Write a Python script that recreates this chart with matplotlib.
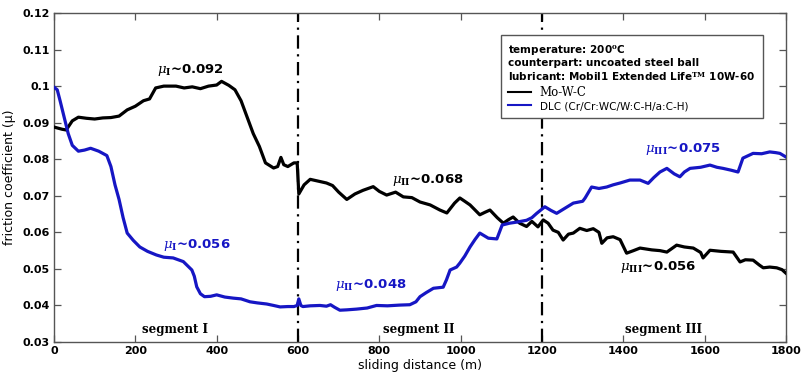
import matplotlib
matplotlib.use("Agg")
import matplotlib.pyplot as plt
from matplotlib.lines import Line2D
from matplotlib.ticker import FuncFormatter

plt.rcParams['font.family'] = ['DejaVu Sans']
plt.rcParams['mathtext.fontset'] = 'dejavuserif'

# ---- data ----
mowc_d = [0, 10, 20, 30, 45, 60, 80, 100, 120, 140, 160, 180, 200, 220, 235, 250, 270, 300,
          320, 340, 360, 380, 400, 412, 430, 445, 460, 475, 490, 505, 520, 540, 550, 558, 565,
          575, 590, 598, 602, 615, 630, 650, 670, 685, 700, 720, 740, 760, 785, 800, 818, 840,
          859, 880, 900, 925, 949, 966, 985, 998, 1010, 1023, 1047, 1060, 1072, 1090, 1105,
          1118, 1129, 1145, 1162, 1175, 1190, 1203, 1215, 1227, 1240, 1252, 1265, 1277, 1293,
          1310, 1326, 1340, 1347, 1360, 1375, 1392, 1408, 1425, 1441, 1470, 1490, 1507, 1531,
          1550, 1572, 1590, 1596, 1613, 1640, 1670, 1687, 1700, 1719, 1735, 1744, 1760, 1777,
          1790, 1800]
mowc_mu = [0.0888, 0.0885, 0.0882, 0.0880, 0.0905, 0.0915, 0.0912, 0.0910, 0.0913, 0.0914,
           0.0918, 0.0935, 0.0945, 0.0960, 0.0965, 0.0995, 0.1000, 0.1000, 0.0995, 0.0998,
           0.0993, 0.1000, 0.1003, 0.1013, 0.1002, 0.0990, 0.0960, 0.0915, 0.0870, 0.0835,
           0.0790, 0.0776, 0.0780, 0.0805, 0.0785, 0.0780, 0.0790, 0.0790, 0.0705, 0.0730,
           0.0745, 0.0740, 0.0735, 0.0728, 0.0710, 0.0690, 0.0705, 0.0715, 0.0725, 0.0712,
           0.0702, 0.0710, 0.0697, 0.0695, 0.0683, 0.0675, 0.0661, 0.0653, 0.0680, 0.0694,
           0.0685, 0.0675, 0.0648, 0.0655, 0.0661, 0.0640, 0.0625, 0.0635, 0.0642, 0.0625,
           0.0616, 0.0630, 0.0615, 0.0634, 0.0625, 0.0606, 0.0600, 0.0579, 0.0595, 0.0598,
           0.0611, 0.0605, 0.0610, 0.0600, 0.0570, 0.0585, 0.0588, 0.0580, 0.0543, 0.0550,
           0.0557, 0.0552, 0.0550, 0.0546, 0.0565, 0.0560, 0.0557, 0.0545, 0.0530, 0.0551,
           0.0548, 0.0546, 0.0519, 0.0525, 0.0524, 0.0510, 0.0503, 0.0505, 0.0503, 0.0498,
           0.0488]

dlc_d = [0, 8, 15, 25, 35, 45, 60, 75, 90, 110, 130, 140, 150, 160, 170, 180, 195, 211, 230,
         252, 270, 293, 318, 339, 345, 351, 360, 370, 385, 400, 420, 441, 460, 482, 500, 523,
         540, 556, 575, 590, 598, 602, 607, 612, 630, 654, 670, 680, 690, 703, 720, 744, 770,
         793, 820, 850, 875, 890, 900, 915, 933, 957, 965, 974, 990, 998, 1010, 1023, 1035,
         1047, 1068, 1089, 1102, 1120, 1138, 1162, 1175, 1187, 1207, 1222, 1236, 1255, 1277,
         1300, 1306, 1322, 1340, 1359, 1375, 1392, 1416, 1441, 1461, 1475, 1490, 1507, 1525,
         1539, 1550, 1564, 1590, 1613, 1630, 1645, 1665, 1682, 1694, 1719, 1740, 1760, 1775,
         1785, 1800]
dlc_mu = [0.0997, 0.0990, 0.0960, 0.0915, 0.0870, 0.0838, 0.0822, 0.0825, 0.0830, 0.0822,
          0.0810, 0.0780, 0.0730, 0.0690, 0.0640, 0.0598, 0.0578, 0.0560, 0.0548, 0.0538,
          0.0532, 0.0530, 0.0520, 0.0497, 0.0480, 0.0451, 0.0432, 0.0424, 0.0425, 0.0429,
          0.0423, 0.0420, 0.0418, 0.0410, 0.0407, 0.0404, 0.0400, 0.0396, 0.0397, 0.0397,
          0.0400, 0.0418, 0.0400, 0.0397, 0.0399, 0.0400, 0.0398, 0.0402, 0.0395, 0.0387,
          0.0388, 0.0390, 0.0393, 0.0400, 0.0399, 0.0401, 0.0402, 0.0410, 0.0424, 0.0435,
          0.0447, 0.0450, 0.0470, 0.0497, 0.0505, 0.0516, 0.0535, 0.0560, 0.0580, 0.0598,
          0.0584, 0.0582, 0.0620, 0.0625, 0.0628, 0.0633, 0.0640, 0.0652, 0.0670, 0.0660,
          0.0652, 0.0665, 0.0680, 0.0685, 0.0694, 0.0724, 0.0720, 0.0724, 0.0730, 0.0735,
          0.0743, 0.0743, 0.0734, 0.0750, 0.0765, 0.0775, 0.0760, 0.0752, 0.0765, 0.0775,
          0.0778, 0.0784, 0.0778, 0.0775, 0.0770, 0.0765, 0.0803, 0.0816, 0.0815, 0.0820,
          0.0818, 0.0816, 0.0806]

segment_bounds = [600, 1200]
segment_labels = ['segment I', 'segment II', 'segment III']
segment_label_x = [216, 809, 1404]

x_ticks = [0, 200, 400, 600, 800, 1000, 1200, 1400, 1600, 1800]
y_ticks = [0.03, 0.04, 0.05, 0.06, 0.07, 0.08, 0.09, 0.10, 0.11, 0.12]

series_labels = ['Mo-W-C', 'DLC (Cr/Cr:WC/W:C-H/a:C-H)']
header_lines = ['temperature: 200$^{\\mathbf{o}}$C',
                'counterpart: uncoated steel ball',
                'lubricant: Mobil1 Extended Life$^{\\mathbf{TM}}$ 10W-60']

# annotations: (text, x, y, colour)
black_c = '#000000'
blue_c = '#1616c4'
annotations = [
    ('$\\mu_{\\mathbf{I}}$~0.092', 253, 0.1044, black_c),
    ('$\\mu_{\\mathbf{I}}$~0.056', 268, 0.0565, blue_c),
    ('$\\mu_{\\mathbf{II}}$~0.048', 691, 0.0456, blue_c),
    ('$\\mu_{\\mathbf{II}}$~0.068', 831, 0.0743, black_c),
    ('$\\mu_{\\mathbf{III}}$~0.075', 1453, 0.0828, blue_c),
    ('$\\mu_{\\mathbf{III}}$~0.056', 1392, 0.0505, black_c),
]

fig = plt.figure(figsize=(8.01, 3.78), dpi=100)
ax = fig.add_axes([0.0674, 0.0952, 0.9139, 0.8704])

ax.plot(mowc_d, mowc_mu, color=black_c, lw=2.3, label=series_labels[0], zorder=3)
ax.plot(dlc_d, dlc_mu, color=blue_c, lw=2.3, label=series_labels[1], zorder=3)

for b in segment_bounds:
    ax.axvline(b, color='black', lw=1.6, linestyle=(0, (6, 2.5, 1, 2.5)), zorder=2)

ax.set_xlim(0, 1800)
ax.set_ylim(0.03, 0.12)
ax.set_xticks(x_ticks)
ax.set_yticks(y_ticks)
ax.yaxis.set_major_formatter(FuncFormatter(lambda v, p: f'{v:g}'))
ax.tick_params(direction='in', top=True, right=True, length=5, width=0.9,
               color='#555555', labelsize=8, pad=3)
for lab in ax.get_xticklabels() + ax.get_yticklabels():
    lab.set_fontweight('bold')
for s in ax.spines.values():
    s.set_color('#555555')
    s.set_linewidth(1.0)

ax.set_xlabel('sliding distance (m)', fontsize=9, labelpad=2)
ax.set_ylabel('friction coefficient (\u03bc)', fontsize=9, labelpad=5)

for txt, x, y, c in annotations:
    ax.text(x, y, txt, color=c, fontsize=9.5, fontweight='bold', ha='left', va='center')

for lab, x in zip(segment_labels, segment_label_x):
    ax.text(x, 0.0335, lab, fontsize=8.5, fontweight='bold', family='DejaVu Serif',
            ha='left', va='center')

handles = [Line2D([], [], color=black_c, lw=1.5), Line2D([], [], color=blue_c, lw=1.5)]
leg = ax.legend(handles, series_labels, title='\n'.join(header_lines),
                loc='upper right', bbox_to_anchor=(0.9754, 0.948),
                fancybox=False, edgecolor='#555555', framealpha=1,
                fontsize=7.5, title_fontproperties={'weight': 'bold', 'size': 7.5},
                handlelength=2.2, handletextpad=0.8, labelspacing=0.25,
                borderpad=0.7, alignment='left')
leg.get_frame().set_linewidth(1.0)
leg.get_texts()[0].set_family('DejaVu Serif')
leg.get_texts()[0].set_fontsize(8.5)

fig.savefig('out.png', dpi=100)
